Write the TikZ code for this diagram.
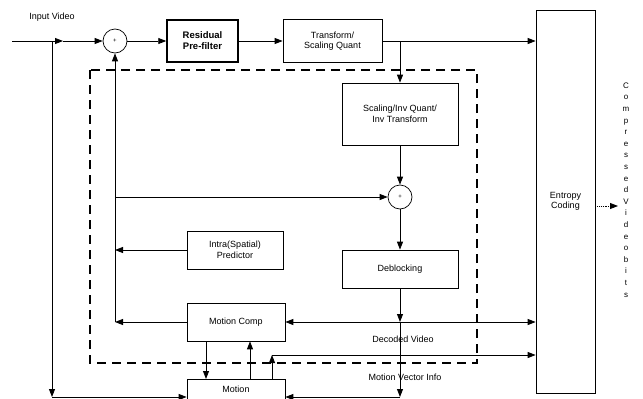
\documentclass[tikz,border=0pt]{standalone}
\usepackage{fontspec}
\setmainfont{Liberation Sans}
\usetikzlibrary{arrows.meta}
\tikzset{
  box/.style={draw, line width=0.7pt, rectangle, align=center, inner sep=1pt,
    font=\fontsize{9}{10.5}\selectfont},
  adder/.style={draw, line width=0.7pt, circle, minimum size=24pt, inner sep=0pt,
    font=\fontsize{6}{7}\selectfont},
  arr/.style={line width=0.9pt, -{Triangle[length=8pt,width=6pt]}},
  txt/.style={font=\fontsize{9}{10.5}\selectfont, inner sep=0pt},
  dashbox/.style={line width=1.4pt, dash pattern=on 9pt off 6pt}
}
\begin{document}
\begin{tikzpicture}[x=1pt, y=-1pt]
\useasboundingbox (0,0) rectangle (643,399);
\clip (0,0) rectangle (643,399);

% dashed decoder loop
\draw[dashbox] (90,70) rectangle (477,363);

% nodes
\node[adder] (add1) at (115,41) {+};
\node[box, line width=1.5pt, minimum width=71pt, minimum height=42pt,
  font=\fontsize{9.5}{11}\selectfont\bfseries] (rpf) at (202.5,41) {Residual\\Pre-filter};
\node[box, minimum width=99pt, minimum height=43pt] (tsq) at (332.5,41) {Transform/\\Scaling Quant};
\node[box, minimum width=59pt, minimum height=383pt] (ent) at (565.5,201.5) {Entropy\\Coding};
\node[box, minimum width=116pt, minimum height=62pt] (sinv) at (400,114) {Scaling/Inv Quant/\\Inv Transform};
\node[adder] (add2) at (400,197) {+};
\node[box, minimum width=116pt, minimum height=38pt] (deb) at (400,269) {Deblocking};
\node[box, minimum width=96pt, minimum height=38pt] (intra) at (235,250) {Intra(Spatial)\\Predictor};
\node[box, minimum width=98pt, minimum height=38pt] (mc) at (236,322) {Motion Comp};
\node[box, minimum width=98pt, minimum height=44pt, anchor=north] (me) at (236,379) {};
\node[txt] (metxt) at (236,389) {Motion};

% texts
\node[txt] (lin) at (52,17) {Input Video};
\node[txt] (ldv) at (403,339) {Decoded Video};
\node[txt] (lmv) at (405,377) {Motion Vector Info};
\node[txt, align=center, font=\fontsize{8}{11.6}\selectfont] (lout) at (626,190)
  {C\\o\\m\\p\\r\\e\\s\\s\\e\\d\\V\\i\\d\\e\\o\\b\\i\\t\\s};

% coordinates
\coordinate (inS) at (12,41);
\coordinate (ib) at (52,41);
\coordinate (ia) at (63,41);
\coordinate (ibd) at (52,397);
\coordinate (b2) at (400,41);
\coordinate (fbm) at (115,322);
\coordinate (fbh) at (115,197);
\coordinate (fbi) at (115,250);
\coordinate (dv) at (400,322);
\coordinate (db) at (400,397);
\coordinate (mv) at (272,355);
\coordinate (eo) at (595,206);
\coordinate (eoe) at (618,206);

% forward path
\draw[arr] (inS) -- (ia);
\draw[arr] (ia) -- (add1.west);
\draw[arr] (add1.east) -- (rpf.west);
\draw[arr] (rpf.east) -- (tsq.west);
\draw[arr] (tsq.east) -- (tsq.east -| ent.west);
\draw[arr] (b2) -- (sinv.north);
\draw[arr] (sinv.south) -- (add2.north);
\draw[arr] (add2.south) -- (deb.north);

% input branch to motion estimation
\draw[arr] (ib) -- (ibd);
\draw[arr] (ibd) -- (ibd -| me.west);

% feedback / prediction
\draw[arr] (mc.west) -- (fbm);
\draw[arr] (fbm) -- (add1.south);
\draw[arr] (fbh) -- (add2.west);
\draw[arr] (intra.west) -- (fbi);

% deblocking output
\draw[arr] (deb.south) -- (dv);
\draw[arr] (dv) -- (db);
\draw[arr] (db) -- (db -| me.east);
\draw[arr] (dv) -- (mc.east);
\draw[arr] (dv) -- (dv -| ent.west);

% motion comp <-> motion
\draw[arr] ([xshift=-30pt]mc.south) -- ([xshift=-30pt]mc.south |- me.north);
\draw[arr] ([xshift=14pt]me.north) -- ([xshift=14pt]me.north |- mc.south);
\draw[arr] ([xshift=36pt]me.north) -- (mv);
\draw[arr] (mv) -- (mv -| ent.west);

% output
\draw[arr, densely dotted] (eo) -- (eoe);
\end{tikzpicture}
\end{document}
